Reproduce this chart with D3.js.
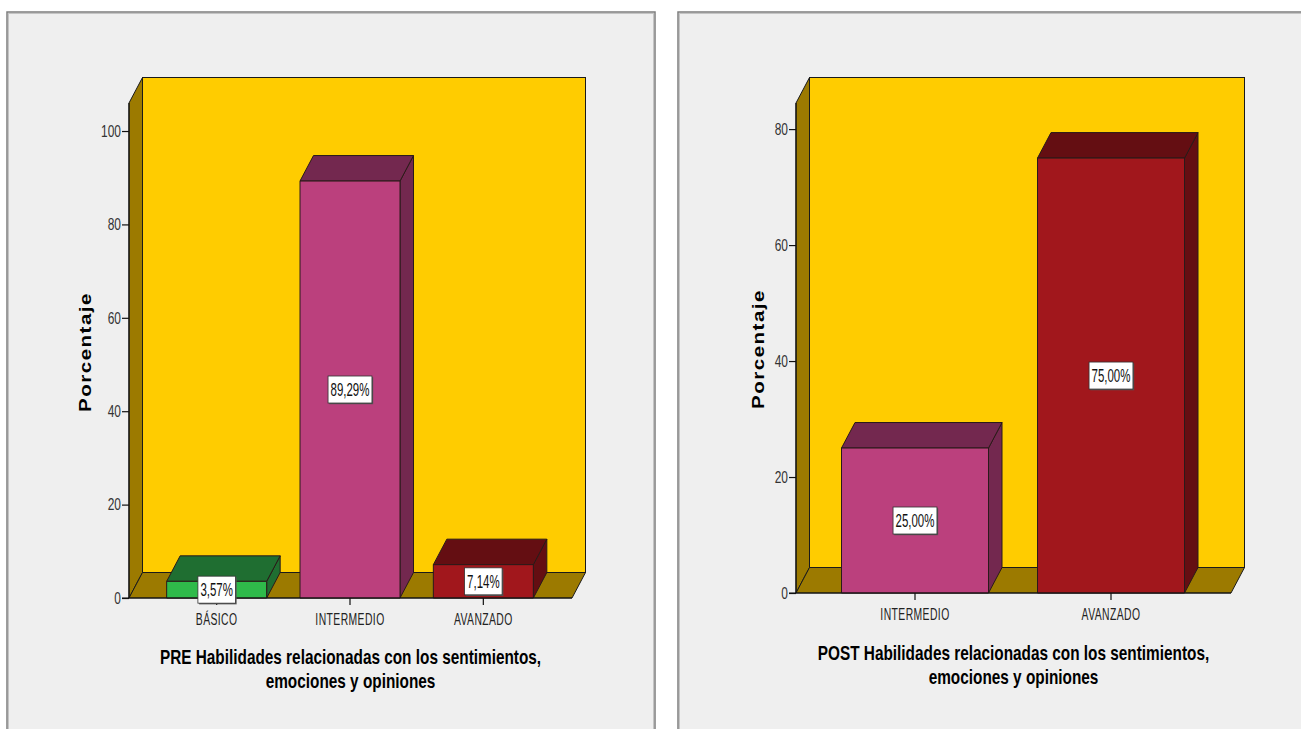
<!DOCTYPE html>
<html>
<head>
<meta charset="utf-8">
<script src="https://cdn.jsdelivr.net/npm/d3@7"></script>
<style>
  html, body { margin: 0; padding: 0; background: #ffffff; }
  svg { display: block; }
  text { font-family: "Liberation Sans", Arial, sans-serif; }
</style>
</head>
<body>
<svg id="chart" width="1301" height="729"></svg>
<script>
// ---- data ----
const preCategories = ["BÁSICO", "INTERMEDIO", "AVANZADO"];
const preValues = [3.57, 89.29, 7.14];
const preTicks = [0, 20, 40, 60, 80, 100];
const preTitle = ["PRE Habilidades relacionadas con los sentimientos,", "emociones y opiniones"];

const postCategories = ["INTERMEDIO", "AVANZADO"];
const postValues = [25.0, 75.0];
const postTicks = [0, 20, 40, 60, 80];
const postTitle = ["POST Habilidades relacionadas con los sentimientos,", "emociones y opiniones"];

const yAxisTitle = "Porcentaje";

// ---- styling ----
const wallColor = "#ffcc00";
const sideColor = "#9c7a00";
const barColors = {
  "BÁSICO":     { front: "#2fba4a", shade: "#1f6e31" },
  "INTERMEDIO": { front: "#bb407d", shade: "#73284f" },
  "AVANZADO":   { front: "#a1171c", shade: "#640e12" }
};
const depthX = 13.5, depthY = 25.5;
const fmtPct = v => d3.format(".2f")(v).replace(".", ",") + "%";

const svg = d3.select("#chart");

// text drawn with a horizontal/vertical scale so that it matches the tall, narrow glyphs
function stretchedText(g, x, y, str, o) {
  const t = g.append("text")
    .attr("transform", `translate(${x},${y})` + (o.rotate ? ` rotate(${o.rotate})` : "") + ` scale(${o.sx},${o.sy})`)
    .attr("text-anchor", o.anchor || "middle")
    .attr("font-size", o.size)
    .attr("font-weight", o.weight || "normal")
    .attr("fill", o.fill || "#111")
    .text(str);
  if (o.ls) t.attr("letter-spacing", o.ls);
  return t;
}

// panel frames
function panel(x, y, w, h) {
  svg.append("rect").attr("x", x).attr("y", y).attr("width", w).attr("height", h)
    .attr("fill", "#efefef").attr("stroke", "#7e7e7e").attr("stroke-width", 1.5);
  svg.append("rect").attr("x", x + 1.5).attr("y", y + 1.5).attr("width", w - 3).attr("height", h - 3)
    .attr("fill", "none").attr("stroke", "#c4c4c4").attr("stroke-width", 1);
}
panel(7, 12, 648, 740);
panel(678, 12, 640, 740);

function drawChart(cfg) {
  const g = svg.append("g");
  const y = d3.scaleLinear().domain([0, cfg.yMax]).range([cfg.y0, cfg.yTop]);
  const x = d3.scaleBand().domain(cfg.categories)
    .range([cfg.axisX + 21, cfg.floorRight - 22]).paddingInner(0.25).paddingOuter(0.125);
  const y0 = y(0), yT = y(cfg.yMax), ax = cfg.axisX, fr = cfg.floorRight;
  const line = d3.line();

  // back wall
  g.append("rect").attr("x", ax + depthX).attr("y", yT - depthY)
    .attr("width", fr - ax).attr("height", y0 - yT)
    .attr("fill", wallColor).attr("stroke", "#1a1a1a").attr("stroke-width", 1);
  // left side wall
  g.append("path").attr("d", line([[ax, yT], [ax + depthX, yT - depthY], [ax + depthX, y0 - depthY], [ax, y0]]) + "Z")
    .attr("fill", sideColor).attr("stroke", "#1a1a1a").attr("stroke-width", 1);
  // floor
  g.append("path").attr("d", line([[ax, y0], [ax + depthX, y0 - depthY], [fr + depthX, y0 - depthY], [fr, y0]]) + "Z")
    .attr("fill", sideColor).attr("stroke", "#1a1a1a").attr("stroke-width", 1);

  // bars
  cfg.categories.forEach((c, i) => {
    const v = cfg.values[i];
    const bx = x(c), bw = x.bandwidth(), yv = y(v);
    const col = barColors[c];
    const bg = g.append("g").attr("stroke", "#2a1a1a").attr("stroke-width", 1).attr("stroke-linejoin", "round");
    bg.append("path").attr("d", line([[bx + bw, yv], [bx + bw + depthX, yv - depthY], [bx + bw + depthX, y0 - depthY], [bx + bw, y0]]) + "Z")
      .attr("fill", col.shade);
    bg.append("path").attr("d", line([[bx, yv], [bx + depthX, yv - depthY], [bx + bw + depthX, yv - depthY], [bx + bw, yv]]) + "Z")
      .attr("fill", col.shade);
    bg.append("rect").attr("x", bx).attr("y", yv).attr("width", bw).attr("height", y0 - yv)
      .attr("fill", col.front);
  });

  // y axis
  const yAxis = d3.axisLeft(y).tickValues(cfg.ticks).tickSize(7).tickPadding(3).tickFormat(d3.format("d"));
  const ya = g.append("g").attr("transform", `translate(${ax},0)`).call(yAxis);
  ya.select(".domain").remove();
  ya.selectAll(".tick line").attr("stroke", "#111").attr("stroke-width", 1.2);
  ya.selectAll(".tick text").remove();
  cfg.ticks.forEach(t => {
    stretchedText(g, ax - 8, y(t) + 5.8, String(t), { size: 13, sx: 0.92, sy: 1.25, anchor: "end", fill: "#333" });
  });
  g.append("line").attr("x1", ax).attr("x2", ax).attr("y1", yT).attr("y2", y0).attr("stroke", "#111").attr("stroke-width", 1.2);
  g.append("line").attr("x1", ax - 7).attr("x2", fr).attr("y1", y0).attr("y2", y0).attr("stroke", "#111").attr("stroke-width", 1.2);

  // x axis ticks and labels
  const xAxis = d3.axisBottom(x).tickSize(7).tickSizeOuter(0);
  const xa = g.append("g").attr("transform", `translate(0,${y0})`).call(xAxis);
  xa.select(".domain").remove();
  xa.selectAll(".tick line").attr("stroke", "#111").attr("stroke-width", 1.2);
  xa.selectAll(".tick text").remove();
  cfg.categories.forEach(c => {
    stretchedText(g, x(c) + x.bandwidth() / 2, y0 + 27, c, { size: 12.5, sx: 0.83, sy: 1.3, fill: "#222", ls: 0.5 });
  });

  // value labels
  cfg.categories.forEach((c, i) => {
    const v = cfg.values[i];
    const cx = x(c) + x.bandwidth() / 2, cy = (y(v) + y0) / 2;
    const lg = g.append("g");
    const t = stretchedText(lg, cx, cy + 6.5, fmtPct(v), { size: 14, sx: 0.82, sy: 1.3, fill: "#111" });
    const tw = t.node().getComputedTextLength() * 0.82 + 5;
    const bh = 27;
    lg.insert("rect", "text").attr("x", cx - tw / 2 + 1.2).attr("y", cy - bh / 2 + 1.2).attr("width", tw).attr("height", bh)
      .attr("fill", "#555");
    lg.insert("rect", "text").attr("x", cx - tw / 2).attr("y", cy - bh / 2).attr("width", tw).attr("height", bh)
      .attr("fill", "#ffffff").attr("stroke", "#333").attr("stroke-width", 0.8);
  });

  // axis title
  stretchedText(g, cfg.yTitleX, cfg.yTitleY, yAxisTitle, { size: 16, weight: "bold", sx: 1.28, sy: 1, rotate: -90, ls: 1.2, fill: "#000" });

  // chart title
  const tc = (ax + fr) / 2;
  cfg.title.forEach((line, i) => {
    stretchedText(g, tc, cfg.titleY + i * 23.5, line, { size: 16, weight: "bold", sx: 0.96, sy: 1.3, fill: "#000" });
  });
}

drawChart({
  categories: preCategories, values: preValues, ticks: preTicks, title: preTitle,
  yMax: 106, axisX: 129, floorRight: 572, y0: 598, yTop: 103,
  yTitleX: 91, yTitleY: 352, titleY: 664
});

drawChart({
  categories: postCategories, values: postValues, ticks: postTicks, title: postTitle,
  yMax: 84.5, axisX: 796, floorRight: 1231, y0: 593, yTop: 103,
  yTitleX: 764, yTitleY: 349, titleY: 660
});
</script>
</body>
</html>
